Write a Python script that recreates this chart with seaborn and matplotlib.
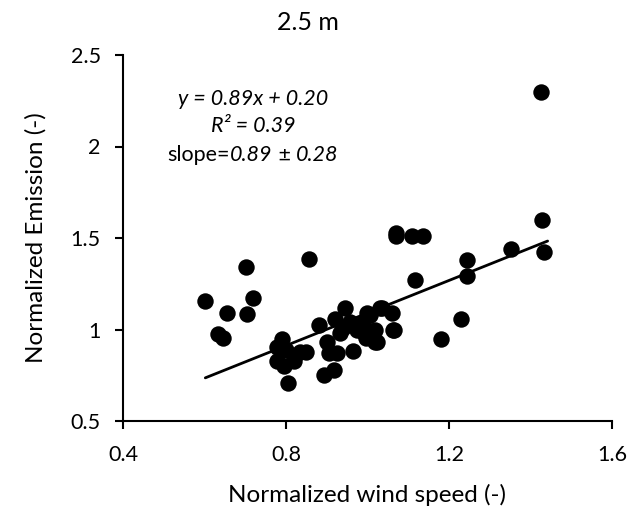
import matplotlib
matplotlib.use("Agg")
import matplotlib.pyplot as plt
from matplotlib.offsetbox import TextArea, HPacker, AnnotationBbox
import seaborn as sns
import pandas as pd
import numpy as np

wind = [0.602, 0.632, 0.645, 0.654, 0.703, 0.705, 0.718, 0.856,
        0.777, 0.777, 0.79, 0.794, 0.80, 0.806, 0.82, 0.82, 0.835, 0.85,
        0.88, 0.893, 0.90, 0.905, 0.917, 0.92, 0.925, 0.932, 0.94, 0.944,
        0.957, 0.964, 0.974, 0.99, 0.99, 0.997, 0.999, 1.006, 1.018, 1.018,
        1.023, 1.03, 1.035, 1.06, 1.063, 1.065, 1.07, 1.07, 1.11, 1.117,
        1.137, 1.18, 1.23, 1.245, 1.245, 1.353, 1.425, 1.427, 1.432]
emission = [1.156, 0.975, 0.953, 1.09, 1.34, 1.085, 1.17, 1.385,
            0.905, 0.83, 0.95, 0.80, 0.89, 0.71, 0.83, 0.85, 0.875, 0.875,
            1.025, 0.75, 0.93, 0.87, 0.78, 1.06, 0.87, 0.98, 1.01, 1.115,
            1.04, 0.88, 1.0, 1.035, 0.985, 0.953, 1.09, 1.08, 1.0, 0.93,
            0.93, 1.12, 1.12, 1.09, 1.0, 1.0, 1.53, 1.51, 1.51, 1.27,
            1.51, 0.95, 1.06, 1.38, 1.29, 1.44, 2.30, 1.60, 1.423]

slope, intercept, slope_err = 0.89, 0.20, 0.28
r2 = 0.39

x_ticks = [0.4, 0.8, 1.2, 1.6]
y_ticks = [0.5, 1.0, 1.5, 2.0, 2.5]
x_ticklabels = ["0.4", "0.8", "1.2", "1.6"]
y_ticklabels = ["0.5", "1", "1.5", "2", "2.5"]

df = pd.DataFrame({"wind": wind, "emission": emission})

sns.set_theme(style="ticks")
plt.rcParams['font.family'] = ['Lato', 'DejaVu Sans']
plt.rcParams['text.color'] = 'black'
plt.rcParams['axes.labelcolor'] = 'black'
plt.rcParams['xtick.color'] = 'black'
plt.rcParams['ytick.color'] = 'black'

fig = plt.figure(figsize=(6.28, 5.16), dpi=100)
ax = fig.add_axes([123/628, 1-421/516, (612-123)/628, (421-55)/516])

sns.scatterplot(data=df, x="wind", y="emission", ax=ax, s=140, color="black",
                edgecolor="black", linewidth=0, legend=False, zorder=3)

xl = np.array([min(wind), max(wind) + 0.01])
sns.lineplot(x=xl, y=slope * xl + intercept, ax=ax, color="black", lw=2, zorder=2)

ax.set_xlim(0.4, 1.6)
ax.set_ylim(0.5, 2.5)
ax.set_xticks(x_ticks)
ax.set_xticklabels(x_ticklabels)
ax.set_yticks(y_ticks)
ax.set_yticklabels(y_ticklabels)
ax.tick_params(axis="x", length=6, width=1.5, pad=11, labelsize=15.5, color="black", labelcolor="black")
ax.tick_params(axis="y", length=6, width=1.5, pad=10, labelsize=15.5, color="black", labelcolor="black")
sns.despine(ax=ax)
for s in ["left", "bottom"]:
    ax.spines[s].set_linewidth(1.5)
    ax.spines[s].set_color("black")

ax.set_xlabel("Normalized wind speed (-)", fontsize=17.5, labelpad=14, color="black")
ax.set_ylabel("Normalized Emission (-)", fontsize=17.5, labelpad=17, color="black")
fig.text(308/628, 1-22/516, "2.5 m", ha="center", va="center", fontsize=18, color="black")

tx = 0.266
ax.text(tx, 0.88, f"y = {slope:.2f}x + {intercept:.2f}", transform=ax.transAxes,
        ha="center", va="center", fontsize=15.5, style="italic", color="black")
ax.text(tx, 0.806, f"R² = {r2:.2f}", transform=ax.transAxes,
        ha="center", va="center", fontsize=15.5, style="italic", color="black")

normal = dict(fontsize=15.5, color="black")
ital = dict(fontsize=15.5, color="black", style="italic")
parts = [TextArea("slope=", textprops=normal),
         TextArea(f"{slope:.2f}", textprops=ital),
         TextArea(" ± ", textprops=normal),
         TextArea(f"{slope_err:.2f}", textprops=ital)]
pack = HPacker(children=parts, pad=0, sep=0, align="baseline")
ab = AnnotationBbox(pack, (tx, 0.727), xycoords="axes fraction", frameon=False,
                    box_alignment=(0.5, 0.5), pad=0)
ax.add_artist(ab)

fig.savefig("out.png", dpi=100, facecolor="white")
